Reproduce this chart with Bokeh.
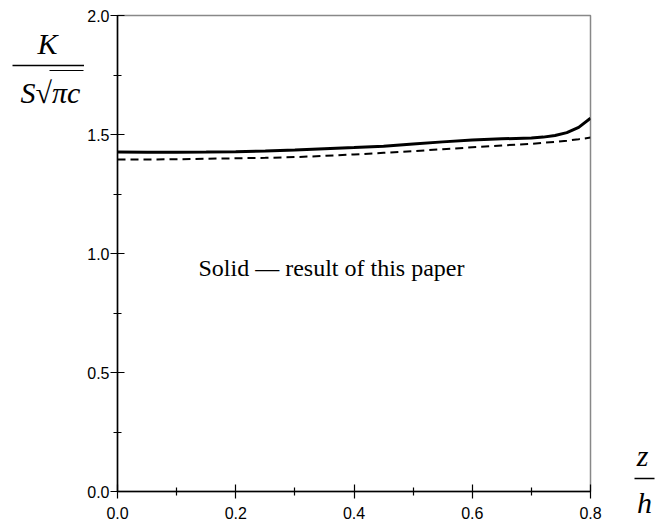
from bokeh.plotting import figure
from bokeh.layouts import row
from bokeh.models import Label, Arrow, FixedTicker, Range1d
from bokeh.embed import file_html
from bokeh.resources import INLINE

z_h = [0.0, 0.05, 0.1, 0.15, 0.2, 0.25, 0.3, 0.35, 0.4, 0.45, 0.5, 0.55, 0.6, 0.65, 0.7, 0.72, 0.74, 0.76, 0.78, 0.8]
k_solid = [1.426, 1.425, 1.425, 1.426, 1.428, 1.431, 1.435, 1.440, 1.445, 1.451, 1.460, 1.469, 1.477, 1.482, 1.485, 1.489, 1.496, 1.508, 1.530, 1.568]
k_dashed = [1.395, 1.395, 1.396, 1.398, 1.400, 1.402, 1.405, 1.410, 1.416, 1.423, 1.430, 1.438, 1.446, 1.454, 1.461, 1.465, 1.469, 1.474, 1.480, 1.487]
x_ticks = [0.0, 0.2, 0.4, 0.6, 0.8]
y_ticks = [0.0, 0.5, 1.0, 1.5, 2.0]
x_labels = {0.0: "0.0", 0.2: "0.2", 0.4: "0.4", 0.6: "0.6", 0.8: "0.8"}
y_labels = {0.0: "0.0", 0.5: "0.5", 1.0: "1.0", 1.5: "1.5", 2.0: "2.0"}
note_text = "Solid \u2014 result of this paper"
y_title_num = "K"
y_title_den = "S\u221a\u03c0c"
x_title_num = "z"
x_title_den = "h"

H = 523
LEFT_W = 84
RIGHT_W = 48

p = figure(output_backend="svg", toolbar_location=None,
           frame_width=473, frame_height=476, frame_align=False,
           min_border_left=116 - LEFT_W, min_border_right=661 - RIGHT_W - 589,
           min_border_top=15, min_border_bottom=32,
           x_range=Range1d(0, 0.8), y_range=Range1d(0, 2.0))
p.grid.visible = False
p.outline_line_color = "#888888"
p.outline_line_width = 1.5
p.background_fill_color = "white"
p.border_fill_color = "white"

for ax, ticks, labels, standoff in ((p.xaxis[0], x_ticks, x_labels, 8), (p.yaxis[0], y_ticks, y_labels, 1)):
    ax.ticker = FixedTicker(ticks=ticks, minor_ticks=[t + (ticks[1] - ticks[0]) / 2 for t in ticks[:-1]])
    ax.major_label_overrides = labels
    ax.axis_line_color = "black"
    ax.axis_line_width = 1.5
    ax.major_tick_line_color = "black"
    ax.minor_tick_line_color = "black"
    ax.major_tick_line_width = 1.2
    ax.minor_tick_line_width = 1.2
    ax.major_tick_in = 7
    ax.major_tick_out = 7
    ax.minor_tick_in = 4
    ax.minor_tick_out = 4
    ax.major_label_text_font = "Liberation Sans"
    ax.major_label_text_font_size = "16px"
    ax.major_label_text_color = "black"
    ax.major_label_standoff = standoff

p.line(z_h, k_solid, line_color="black", line_width=3)
p.line(z_h, k_dashed, line_color="black", line_width=2, line_dash="8 5")

p.add_layout(Label(x=0.137, y=0.941, text=note_text, text_font="Liberation Serif",
                   text_font_size="24px", text_color="black", text_baseline="alphabetic"))


def side_fig(w, x0):
    f = figure(output_backend="svg", toolbar_location=None, width=w, height=H,
               min_border=0, frame_align=False,
               x_range=Range1d(x0, x0 + w), y_range=Range1d(H, 0),
               x_axis_type=None, y_axis_type=None)
    f.grid.visible = False
    f.outline_line_color = None
    f.background_fill_color = "white"
    f.border_fill_color = "white"
    return f


serif = dict(text_font="Liberation Serif", text_font_style="italic", text_color="black",
             text_align="center", text_baseline="alphabetic", text_font_size="30px")
bar = dict(start=None, end=None, line_color="black", line_width=1.5)

left = side_fig(LEFT_W, 0)
left.add_layout(Label(x=47, y=43, text=y_title_num, **serif))
left.add_layout(Label(x=50, y=92, text=y_title_den, **serif))
left.add_layout(Arrow(x_start=12, y_start=65, x_end=LEFT_W, y_end=65, **bar))
left.add_layout(Arrow(x_start=49, y_start=70, x_end=83, y_end=70, start=None, end=None,
                      line_color="black", line_width=1.2))

right = side_fig(RIGHT_W, 661 - RIGHT_W)
right.add_layout(Label(x=641, y=455, text=x_title_num, **serif))
right.add_layout(Label(x=643, y=502, text=x_title_den, **serif))
right.add_layout(Arrow(x_start=633, y_start=478, x_end=653, y_end=478, **bar))

layout = row(left, p, right, spacing=0)
open("out.html", "w").write(file_html(layout, INLINE))
